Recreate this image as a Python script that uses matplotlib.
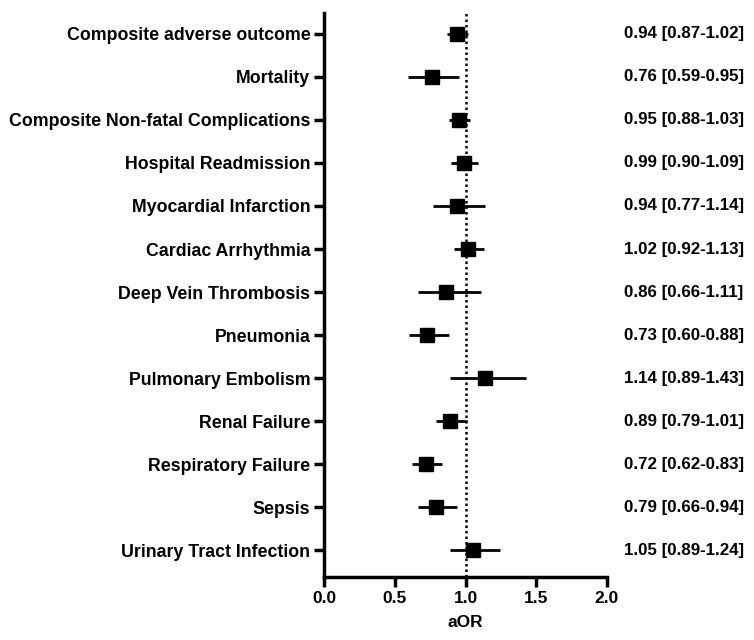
import matplotlib.pyplot as plt
from matplotlib.transforms import blended_transform_factory

plt.rcParams['font.family'] = ['Liberation Sans', 'DejaVu Sans']
plt.rcParams['font.weight'] = 'bold'

outcomes = ["Composite adverse outcome", "Mortality", "Composite Non-fatal Complications",
            "Hospital Readmission", "Myocardial Infarction", "Cardiac Arrhythmia",
            "Deep Vein Thrombosis", "Pneumonia", "Pulmonary Embolism", "Renal Failure",
            "Respiratory Failure", "Sepsis", "Urinary Tract Infection"]
aor = [0.94, 0.76, 0.95, 0.99, 0.94, 1.02, 0.86, 0.73, 1.14, 0.89, 0.72, 0.79, 1.05]
lower = [0.87, 0.59, 0.88, 0.90, 0.77, 0.92, 0.66, 0.60, 0.89, 0.79, 0.62, 0.66, 0.89]
upper = [1.02, 0.95, 1.03, 1.09, 1.14, 1.13, 1.11, 0.88, 1.43, 1.01, 0.83, 0.94, 1.24]

fig = plt.figure(figsize=(7.54, 6.4), dpi=100)
ax = fig.add_axes([0.430, 0.098, 0.375, 0.882])

ys = list(range(len(outcomes)))
for i in ys:
    ax.plot([lower[i], upper[i]], [i, i], color='black', lw=2, solid_capstyle='butt')
ax.plot(aor, ys, 's', color='black', markersize=9.5)
ax.axvline(1.0, color='black', ls=(0, (1, 1.2)), lw=1.8)

ax.set_xlim(0, 2)
ax.set_ylim(len(outcomes) - 1 + 0.63, -0.49)
ax.set_xticks([0, 0.5, 1.0, 1.5, 2.0])
ax.set_xticklabels(["0.0", "0.5", "1.0", "1.5", "2.0"])
ax.set_yticks(ys)
ax.set_yticklabels(outcomes, fontsize=12.8)
ax.tick_params(axis='both', width=2.5, length=7, pad=3)
ax.tick_params(axis='x', labelsize=12.5)
ax.set_xlabel("aOR", fontsize=12.5, fontweight='bold', labelpad=6)
for s in ['top', 'right']:
    ax.spines[s].set_visible(False)
for s in ['left', 'bottom']:
    ax.spines[s].set_linewidth(2.5)

trans = blended_transform_factory(fig.transFigure, ax.transData)
for i in ys:
    label = f"{aor[i]:.2f} [{lower[i]:.2f}-{upper[i]:.2f}]"
    ax.text(0.828, i, label, transform=trans, ha='left', va='center',
            fontsize=12.2, fontweight='bold')

fig.savefig("out.png", dpi=100)
